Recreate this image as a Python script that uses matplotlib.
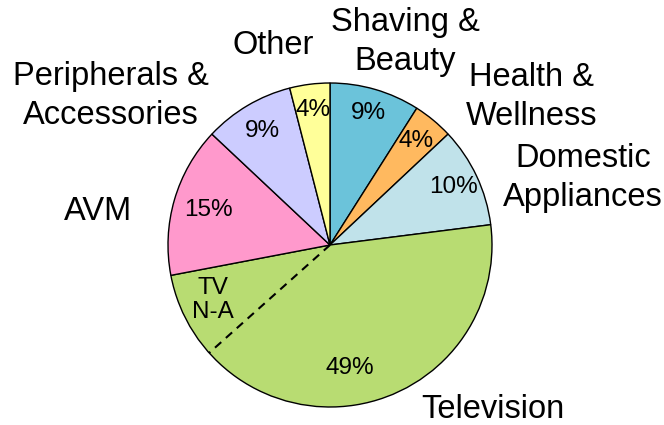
import numpy as np
import matplotlib
matplotlib.use("Agg")
import matplotlib.pyplot as plt

plt.rcParams['font.family'] = ['Liberation Sans', 'DejaVu Sans']

# slice data, clockwise from 12 o'clock
labels = ["Shaving &\nBeauty", "Health &\nWellness", "Domestic\nAppliances",
          "Television", "AVM", "Peripherals &\nAccessories", "Other"]
shares = [9, 4, 10, 49, 15, 9, 4]
colors = ["#6bc3da", "#ffb95f", "#c0e2ea", "#b8dc72", "#ff99cc", "#ccccff", "#ffff99"]
# part of the Television slice that is TV N-A (percent of total)
tv_na = 8.6

# label placement (pixels in the 664x425 image) and pct radii
label_px = [(405, 42), (532, 97), (583, 178), (493, 410), (98, 212), (111, 96), (273, 45)]
pct_r = [0.85, 0.83, 0.84, 0.77, 0.78, 0.82, 0.84]

W, H = 664, 425
cx, cy, R = 330, 245, 162

fig = plt.figure(figsize=(W / 100, H / 100), dpi=100)
ax = fig.add_axes([(cx - R) / W, (H - cy - R) / H, 2 * R / W, 2 * R / H])
wedges, _ = ax.pie(shares, colors=colors, startangle=90, counterclock=False,
                   wedgeprops=dict(edgecolor="black", linewidth=1.0))
ax.set_xlim(-1, 1)
ax.set_ylim(-1, 1)
ax.set_aspect("equal")
ax.axis("off")

def px2data(px, py):
    return (px - cx) / R, (cy - py) / R

for w, s, r in zip(wedges, shares, pct_r):
    a = np.deg2rad((w.theta1 + w.theta2) / 2)
    ax.text(r * np.cos(a), r * np.sin(a), f"{s}%", ha="center", va="center", fontsize=17.5)

for lab, (px, py) in zip(labels, label_px):
    x, y = px2data(px, py)
    ax.text(x, y, lab, ha="center", va="center", fontsize=23.5, linespacing=1.35,
            clip_on=False)

# dashed split inside the Television slice
tv = wedges[3]
ang = np.deg2rad(tv.theta1 + tv_na / 100 * 360)
ax.plot([0, np.cos(ang)], [0, np.sin(ang)], ls=(0, (4, 3)), color="black", lw=1.5)
x, y = px2data(213, 300)
ax.text(x, y, "TV\nN-A", ha="center", va="center", fontsize=17.5, linespacing=1.1)

fig.savefig("out.png", dpi=100)
